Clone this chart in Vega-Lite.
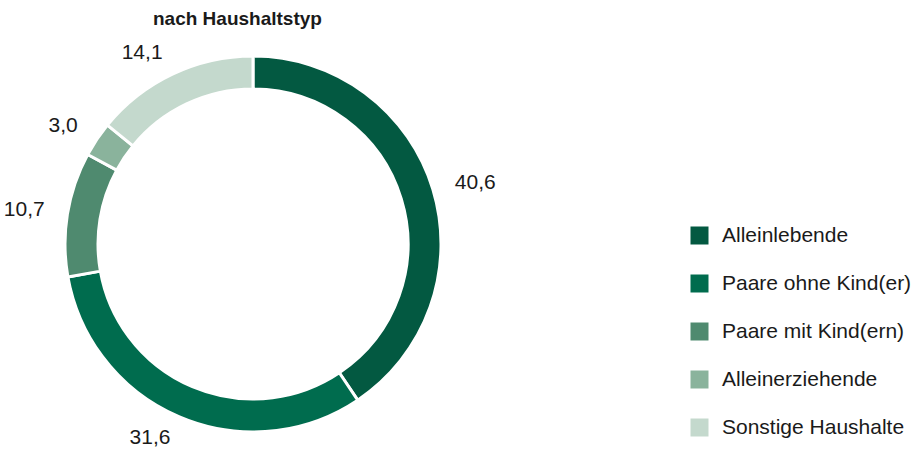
{
  "$schema": "https://vega.github.io/schema/vega-lite/v6.json",
  "width": 921,
  "height": 457,
  "autosize": {"type": "fit", "contains": "padding"},
  "padding": {"top": 10, "left": 0, "right": 0, "bottom": 0},
  "background": "white",
  "title": {
    "text": "nach Haushaltstyp",
    "font": "Liberation Sans",
    "fontSize": 19,
    "fontWeight": "bold",
    "color": "#1a1a1a",
    "anchor": "start",
    "frame": "group",
    "dx": 153,
    "offset": 4
  },
  "config": {"view": {"stroke": null}},
  "data": {
    "values": [
      {"typ": "Alleinlebende", "value": 40.6, "label": "40,6", "idx": 1},
      {"typ": "Paare ohne Kind(er)", "value": 31.6, "label": "31,6", "idx": 2},
      {"typ": "Paare mit Kind(ern)", "value": 10.7, "label": "10,7", "idx": 3},
      {"typ": "Alleinerziehende", "value": 3.0, "label": "3,0", "idx": 4},
      {"typ": "Sonstige Haushalte", "value": 14.1, "label": "14,1", "idx": 5}
    ]
  },
  "encoding": {
    "theta": {"field": "value", "type": "quantitative", "stack": true},
    "order": {"field": "idx", "type": "quantitative"}
  },
  "layer": [
    {
      "mark": {"type": "arc", "innerRadius": 155, "outerRadius": 188, "stroke": "white", "strokeWidth": 3, "x": 253, "y": 211},
      "encoding": {
        "color": {
          "field": "typ",
          "type": "nominal",
          "sort": ["Alleinlebende", "Paare ohne Kind(er)", "Paare mit Kind(ern)", "Alleinerziehende", "Sonstige Haushalte"],
          "scale": {
            "domain": ["Alleinlebende", "Paare ohne Kind(er)", "Paare mit Kind(ern)", "Alleinerziehende", "Sonstige Haushalte"],
            "range": ["#035941", "#006C4E", "#4F8A6F", "#8AB39C", "#C4D9CD"]
          },
          "legend": {
            "title": null,
            "orient": "none",
            "legendX": 689,
            "legendY": 192,
            "symbolType": "square",
            "symbolSize": 324,
            "symbolStrokeWidth": 0,
            "labelFont": "Liberation Sans",
            "labelFontSize": 21,
            "labelColor": "#1a1a1a",
            "labelOffset": 12,
            "rowPadding": 26,
            "labelLimit": 300
          }
        }
      }
    },
    {
      "mark": {
        "type": "text",
        "radius": 211,
        "x": 253,
        "y": 211,
        "baseline": "middle",
        "align": {"expr": "datum.value_start + datum.value_end < 100 ? 'left' : 'right'"},
        "font": "Liberation Sans",
        "fontSize": 21,
        "color": "#1a1a1a"
      },
      "encoding": {
        "text": {"field": "label", "type": "nominal"}
      }
    }
  ]
}
